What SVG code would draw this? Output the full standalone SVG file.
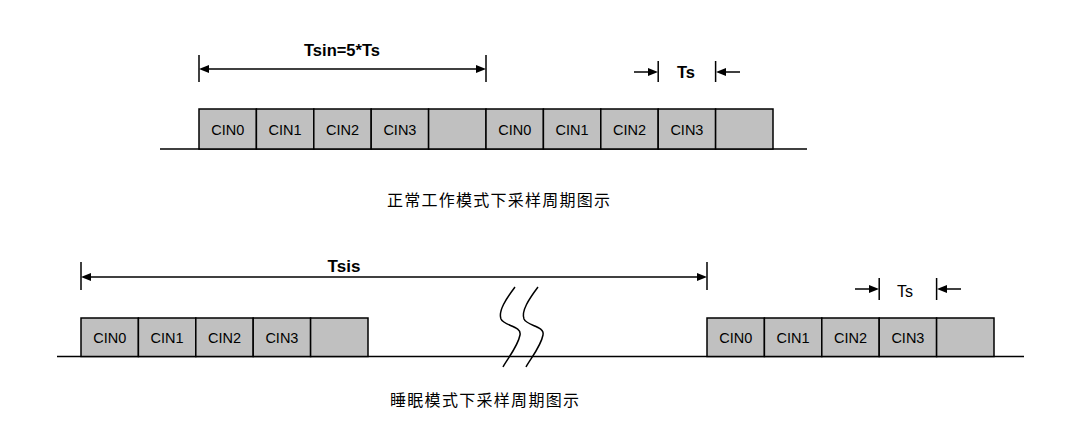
<svg xmlns="http://www.w3.org/2000/svg" width="1086" height="432" viewBox="0 0 1086 432">
<style>
.box{fill:#c0c0c0;stroke:#000;stroke-width:1.5}
.ln{stroke:#000;stroke-width:1.5;fill:none}
.cin{font-family:"Liberation Sans",Arial,sans-serif;font-size:14.5px;text-anchor:middle;fill:#000}
.lbl{font-family:"Liberation Sans",Arial,sans-serif;font-weight:bold;font-size:16.5px;text-anchor:middle;fill:#000}
.lblr{font-family:"Liberation Sans",Arial,sans-serif;font-size:16px;text-anchor:middle;fill:#000}
.cap{font-family:"Noto Sans CJK SC","Noto Sans",sans-serif;font-size:16px;fill:#000}
</style>
<rect width="1086" height="432" fill="#fff"/>

<g id="connectors">
<line class="ln" x1="160" y1="149" x2="807" y2="149"/>
<line class="ln" x1="57" y1="356.5" x2="1024" y2="356.5"/>
<line class="ln" x1="199" y1="55" x2="199" y2="82"/>
<line class="ln" x1="486" y1="55" x2="486" y2="82"/>
<line class="ln" x1="206" y1="69" x2="479" y2="69"/>
<path d="M209,65 L199,69 L209,73 Z"/>
<path d="M476,65 L486,69 L476,73 Z"/>
<line class="ln" x1="658.2" y1="61" x2="658.2" y2="82"/>
<line class="ln" x1="715.6" y1="61" x2="715.6" y2="82"/>
<line class="ln" x1="634" y1="72" x2="650" y2="72"/>
<path d="M648,68 L658,72 L648,76 Z"/>
<line class="ln" x1="740" y1="72" x2="724" y2="72"/>
<path d="M726,68 L716,72 L726,76 Z"/>
<line class="ln" x1="81" y1="262" x2="81" y2="290"/>
<line class="ln" x1="707" y1="262" x2="707" y2="290"/>
<line class="ln" x1="88" y1="277" x2="700" y2="277"/>
<path d="M91,273 L81,277 L91,281 Z"/>
<path d="M697,273 L707,277 L697,281 Z"/>
<line class="ln" x1="879.2" y1="278" x2="879.2" y2="300"/>
<line class="ln" x1="936.6" y1="278" x2="936.6" y2="300"/>
<line class="ln" x1="855" y1="289" x2="871" y2="289"/>
<path d="M869,285 L879,289 L869,293 Z"/>
<line class="ln" x1="961" y1="289" x2="945" y2="289"/>
<path d="M947,285 L937,289 L947,293 Z"/>
<path class="ln" d="M515,287 C506,299 498,311 501,319 C504,326 522,326 520,335 C518,346 508,358 503,367"/>
<path class="ln" d="M538,287 C529,299 521,311 524,319 C527,326 545,326 543,335 C541,346 531,358 526,367"/>
</g>

<g id="labels">
<text class="lbl" x="342" y="56">Tsin=5*Ts</text>
<text class="lbl" x="686" y="78">Ts</text>
<text class="lbl" x="344" y="271.5" style="font-size:17px">Tsis</text>
<text class="lblr" x="905" y="297">Ts</text>
<text class="cap" x="387" y="206" textLength="223" lengthAdjust="spacing">正常工作模式下采样周期图示</text>
<text class="cap" x="390" y="406" textLength="189" lengthAdjust="spacing">睡眠模式下采样周期图示</text>
</g>

<g id="top-frame-1">
<rect class="box" x="199" y="109" width="57.4" height="40"/>
<text class="cin" x="227.7" y="134.5">CIN0</text>
<rect class="box" x="256.4" y="109" width="57.4" height="40"/>
<text class="cin" x="285.1" y="134.5">CIN1</text>
<rect class="box" x="313.8" y="109" width="57.4" height="40"/>
<text class="cin" x="342.5" y="134.5">CIN2</text>
<rect class="box" x="371.2" y="109" width="57.4" height="40"/>
<text class="cin" x="399.9" y="134.5">CIN3</text>
<rect class="box" x="428.6" y="109" width="57.4" height="40"/>
</g>
<g id="top-frame-2">
<rect class="box" x="486" y="109" width="57.4" height="40"/>
<text class="cin" x="514.7" y="134.5">CIN0</text>
<rect class="box" x="543.4" y="109" width="57.4" height="40"/>
<text class="cin" x="572.1" y="134.5">CIN1</text>
<rect class="box" x="600.8" y="109" width="57.4" height="40"/>
<text class="cin" x="629.5" y="134.5">CIN2</text>
<rect class="box" x="658.2" y="109" width="57.4" height="40"/>
<text class="cin" x="686.9" y="134.5">CIN3</text>
<rect class="box" x="715.6" y="109" width="57.4" height="40"/>
</g>
<g id="bottom-frame-1">
<rect class="box" x="81" y="318" width="57.4" height="38.5"/>
<text class="cin" x="109.7" y="342.5">CIN0</text>
<rect class="box" x="138.4" y="318" width="57.4" height="38.5"/>
<text class="cin" x="167.1" y="342.5">CIN1</text>
<rect class="box" x="195.8" y="318" width="57.4" height="38.5"/>
<text class="cin" x="224.5" y="342.5">CIN2</text>
<rect class="box" x="253.2" y="318" width="57.4" height="38.5"/>
<text class="cin" x="281.9" y="342.5">CIN3</text>
<rect class="box" x="310.6" y="318" width="57.4" height="38.5"/>
</g>
<g id="bottom-frame-2">
<rect class="box" x="707" y="318" width="57.4" height="38.5"/>
<text class="cin" x="735.7" y="342.5">CIN0</text>
<rect class="box" x="764.4" y="318" width="57.4" height="38.5"/>
<text class="cin" x="793.1" y="342.5">CIN1</text>
<rect class="box" x="821.8" y="318" width="57.4" height="38.5"/>
<text class="cin" x="850.5" y="342.5">CIN2</text>
<rect class="box" x="879.2" y="318" width="57.4" height="38.5"/>
<text class="cin" x="907.9" y="342.5">CIN3</text>
<rect class="box" x="936.6" y="318" width="57.4" height="38.5"/>
</g>
</svg>
